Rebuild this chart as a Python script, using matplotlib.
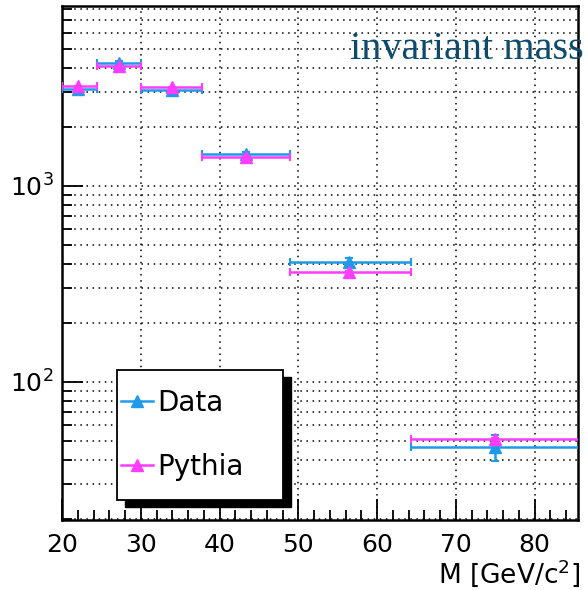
import matplotlib.pyplot as plt
from matplotlib.patches import Rectangle
from matplotlib.lines import Line2D
from matplotlib.ticker import LogLocator, LogFormatterMathtext, MultipleLocator, NullFormatter

plt.rcParams['font.family'] = 'DejaVu Sans'
plt.rcParams['mathtext.default'] = 'regular'

# bin centres and edges
x_mean = [22.0, 27.2, 33.9, 43.3, 56.4, 75.0]
x_low = [20.0, 24.4, 30.0, 37.8, 48.9, 64.3]
x_high = [24.4, 30.0, 37.8, 48.9, 64.3, 90.0]

data_y = [3110, 4250, 3100, 1450, 408, 46.6]
data_err = [56, 65, 56, 38, 20, 7]
pythia_y = [3230, 4090, 3180, 1405, 364, 50.9]
pythia_err = [10, 12, 10, 6, 3, 1]

blue = '#1e9be8'
magenta = '#ff3cff'

W, H = 588, 590
fig = plt.figure(figsize=(W / 100, H / 100), dpi=100)
ax = fig.add_axes([62 / W, 70 / H, 516 / W, 514 / H])

xerr = [[m - lo for m, lo in zip(x_mean, x_low)], [hi - m for m, hi in zip(x_mean, x_high)]]

ax.errorbar(x_mean, data_y, xerr=xerr, yerr=data_err, fmt='^', color=blue, ms=9,
            elinewidth=1.8, capsize=3, capthick=1.5, zorder=3)
ax.errorbar(x_mean, pythia_y, xerr=xerr, yerr=pythia_err, fmt='^', color=magenta, ms=9,
            elinewidth=1.8, capsize=3, capthick=1.5, zorder=4)

ax.set_yscale('log')
ax.set_xlim(20, 85.5)
ax.set_ylim(19.7, 8270)

ax.xaxis.set_major_locator(MultipleLocator(10))
ax.xaxis.set_minor_locator(MultipleLocator(2))
ax.yaxis.set_major_locator(LogLocator(base=10))
ax.yaxis.set_major_formatter(LogFormatterMathtext())
ax.yaxis.set_minor_locator(LogLocator(base=10, subs=range(2, 10)))
ax.yaxis.set_minor_formatter(NullFormatter())

ax.tick_params(which='both', direction='in', top=False, right=False, width=1.3, labelsize=18)
ax.tick_params(which='major', length=15)
ax.tick_params(which='minor', length=7)
ax.tick_params(axis='x', pad=9)
ax.tick_params(axis='y', pad=6)

ax.grid(True, which='major', axis='x', color='black', linestyle=(0, (1, 3)), linewidth=1.1)
ax.grid(True, which='both', axis='y', color='black', linestyle=(0, (1, 3)), linewidth=1.1)
ax.set_axisbelow(True)

for s in ax.spines.values():
    s.set_linewidth(1.8)

fig.text(580 / W, 1 - 573 / H, 'M [GeV/c$^{2}$]', fontsize=19, ha='right', va='center')

ax.text(350 / W, 1 - 59 / H, 'invariant mass', transform=fig.transFigure,
        family='Liberation Serif', fontsize=29, color='#0d4b6e', va='baseline', ha='left', zorder=10)

# legend box with ROOT style black shadow
fig.patches.append(Rectangle((125 / W, 1 - 507 / H), 166 / W, 130 / H, transform=fig.transFigure,
                             facecolor='black', edgecolor='black', zorder=5))
fig.patches.append(Rectangle((117 / W, 1 - 500 / H), 166 / W, 130 / H, transform=fig.transFigure,
                             facecolor='white', edgecolor='black', linewidth=1.3, zorder=6))

handles = [Line2D([], [], color=blue, marker='^', ms=9, lw=1.8),
           Line2D([], [], color=magenta, marker='^', ms=9, lw=1.8)]
leg = fig.legend(handles, ['Data', 'Pythia'], loc='upper left',
                 bbox_to_anchor=(121 / W, 1 - 389 / H), frameon=False, fontsize=20,
                 handlelength=1.15, handletextpad=0.15, labelspacing=1.3, borderpad=0, borderaxespad=0)
leg.set_zorder(7)

fig.savefig('out.png', dpi=100)
